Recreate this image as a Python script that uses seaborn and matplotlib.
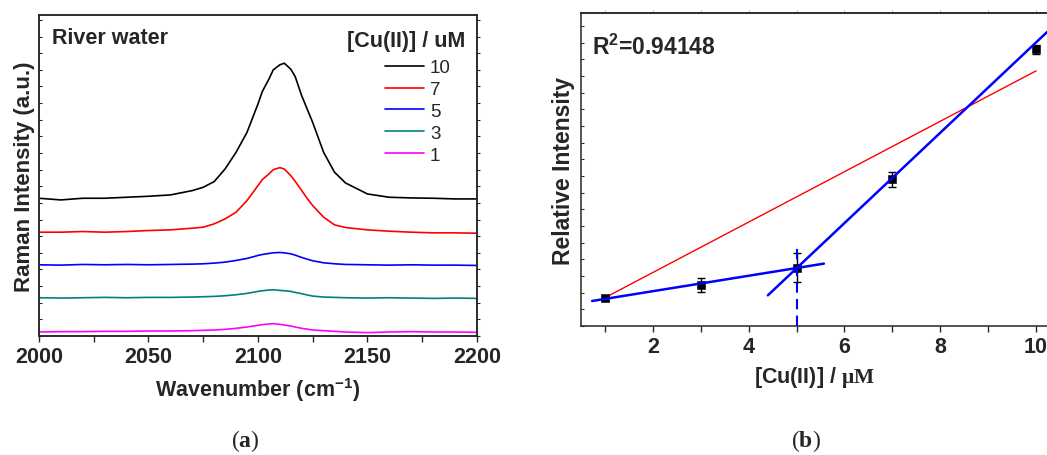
import numpy as np
import pandas as pd
import matplotlib
matplotlib.use("Agg")
import matplotlib.pyplot as plt
from matplotlib.ticker import MultipleLocator, NullFormatter
import seaborn as sns

# ---- panel (a): Raman spectra, offset stacked (arbitrary units) ----
wavenumber = [2000, 2010, 2020, 2030, 2040, 2050, 2060, 2070, 2075, 2080,
              2085, 2090, 2095, 2100, 2102, 2105, 2107, 2110, 2112, 2115,
              2117, 2120, 2122, 2125, 2130, 2135, 2140, 2150, 2160, 2170,
              2180, 2190, 2200]
spec_10 = [414, 409, 414, 414, 417, 420, 424, 437, 447, 464,
           502, 552, 612, 697, 735, 772, 800, 815, 820, 802,
           780, 722, 690, 642, 552, 492, 460, 427, 417, 415,
           414, 412, 412]
spec_7 = [312, 312, 314, 312, 314, 317, 319, 324, 327, 337,
          352, 372, 407, 452, 470, 487, 500, 506, 502, 482,
          465, 437, 418, 392, 357, 334, 326, 319, 315, 312,
          310, 310, 309]
spec_5 = [214, 213, 215, 214, 215, 214, 215, 216, 217, 219,
          222, 227, 233, 242, 245, 248, 250, 251, 250, 247,
          243, 236, 232, 226, 220, 217, 215, 214, 213, 214,
          213, 213, 212]
spec_3 = [115, 114, 115, 116, 115, 116, 116, 117, 118, 119,
          121, 124, 128, 134, 136, 138, 139, 137, 136, 134,
          131, 127, 124, 120, 117, 116, 115, 114, 115, 114,
          113, 114, 113]
spec_1 = [12, 13, 13, 14, 14, 15, 15, 16, 17, 18,
          20, 23, 27, 32, 34, 36, 37, 35, 33, 30,
          27, 23, 21, 18, 16, 14, 12, 10, 12, 13,
          12, 12, 11]
conc_labels = ["10", "7", "5", "3", "1"]
spec_colors = ["black", "#ff0000", "#0000ff", "#008080", "#ff00ff"]

# ---- panel (b): relative intensity vs concentration ----
conc = [1, 3, 5, 7, 10]
rel_int = [0.84, 1.24, 1.75, 4.40, 8.30]
rel_err = [0.07, 0.21, 0.43, 0.23, 0.14]
red_fit_x = [1.0, 10.0]
red_fit_y = [0.85, 7.65]
blue_fit1_x = [0.73, 5.57]
blue_fit1_y = [0.75, 1.87]
blue_fit2_x = [4.40, 10.30]
blue_fit2_y = [0.92, 8.91]
cutoff_x = [5.0, 5.0]
cutoff_y = [0.0, 2.45]

sns.set_style("ticks")
plt.rcParams["font.family"] = ["Liberation Sans", "DejaVu Sans"]
plt.rcParams["font.weight"] = "bold"
plt.rcParams["mathtext.fontset"] = "custom"
plt.rcParams["mathtext.rm"] = "Liberation Serif"
plt.rcParams["mathtext.bf"] = "Liberation Serif:bold"
plt.rcParams["mathtext.sf"] = "Liberation Sans:bold"
plt.rcParams["axes.linewidth"] = 1.1

fig = plt.figure(figsize=(10.47, 4.56), dpi=100)

# ---------------- panel (a) ----------------
ax1 = fig.add_axes([0.0372, 0.261, 0.4183, 0.704])
spectra = [spec_10, spec_7, spec_5, spec_3, spec_1]
df = pd.concat(
    [pd.DataFrame({"wavenumber": wavenumber, "intensity": s, "conc": lab})
     for s, lab in zip(spectra, conc_labels)],
    ignore_index=True,
)
sns.lineplot(data=df, x="wavenumber", y="intensity", hue="conc",
             hue_order=conc_labels, palette=dict(zip(conc_labels, spec_colors)),
             linewidth=1.2, ax=ax1)
ax1.set_xlim(2000, 2200)
ax1.set_ylim(0, 965)
ax1.xaxis.set_major_locator(MultipleLocator(50))
ax1.xaxis.set_minor_locator(MultipleLocator(25))
ax1.yaxis.set_major_locator(MultipleLocator(50))
ax1.yaxis.set_major_formatter(NullFormatter())
ax1.tick_params(axis="x", which="both", direction="out", length=4, width=1,
                labelsize=15.5, pad=3)
ax1.tick_params(axis="y", which="both", direction="in", length=2.5, width=0.8)
for lab in ax1.get_xticklabels():
    lab.set_fontweight("bold")
ax1.set_xlabel(r"Wavenumber (cm$^{\mathsf{-1}}$)", fontsize=15.5,
               fontweight="bold", labelpad=6)
ax1.set_ylabel("Raman Intensity (a.u.)", fontsize=16, fontweight="bold",
               labelpad=-1)
ax1.text(0.03, 0.913, "River water", transform=ax1.transAxes, fontsize=15.5,
         fontweight="bold", va="baseline")
ax1.text(0.973, 0.903, "[Cu(II)] / uM", transform=ax1.transAxes,
         fontsize=15.5, fontweight="bold", va="baseline", ha="right")
leg = ax1.legend(loc="upper left", bbox_to_anchor=(0.79, 0.862),
                 frameon=False, fontsize=13.5,
                 handlelength=2.1, handletextpad=0.3, labelspacing=0.25,
                 borderpad=0.0, borderaxespad=0.0)
for t in leg.get_texts():
    t.set_fontweight("normal")
for h in leg.get_lines():
    h.set_linewidth(1.2)

ax1r = ax1.twinx()
ax1r.set_ylim(0, 965)
ax1r.yaxis.set_major_locator(MultipleLocator(50))
ax1r.yaxis.set_major_formatter(NullFormatter())
ax1r.tick_params(axis="y", direction="out", length=2.5, width=0.8)

# ---------------- panel (b) ----------------
ax2 = fig.add_axes([0.555, 0.2829, 0.446, 0.686])
ax2.errorbar(conc, rel_int, yerr=rel_err, fmt="none", ecolor="black",
             elinewidth=1.0, capsize=3, capthick=1.0, zorder=3)
sns.scatterplot(x=conc, y=rel_int, marker="s", s=26, color="black",
                edgecolor="black", ax=ax2, zorder=4)
sns.lineplot(x=red_fit_x, y=red_fit_y, color="#ff0000", linewidth=1.0,
             ax=ax2, zorder=2)
sns.lineplot(x=blue_fit1_x, y=blue_fit1_y, color="#0000ff", linewidth=1.8,
             ax=ax2, zorder=5)
sns.lineplot(x=blue_fit2_x, y=blue_fit2_y, color="#0000ff", linewidth=1.8,
             ax=ax2, zorder=5)
ax2.plot(cutoff_x, cutoff_y, color="#0000ff", linewidth=1.5,
         linestyle=(0, (5, 3)), zorder=5)
ax2.set_xlim(0.5, 10.25)
ax2.set_ylim(0, 9.38)
ax2.xaxis.set_major_locator(MultipleLocator(2))
ax2.xaxis.set_minor_locator(MultipleLocator(1))
ax2.yaxis.set_major_locator(MultipleLocator(0.5))
ax2.yaxis.set_major_formatter(NullFormatter())
ax2.tick_params(axis="x", which="both", direction="out", length=4, width=1,
                labelsize=15.5, pad=3)
ax2.tick_params(axis="y", which="both", direction="in", length=2.5, width=0.8)
for lab in ax2.get_xticklabels():
    lab.set_fontweight("bold")
ax2.set_xlabel(r"[Cu(II)] / $\mathrm{\mu M}$", fontsize=15.5,
               fontweight="bold", labelpad=5)
ax2.set_ylabel("Relative Intensity", fontsize=16.5, fontweight="bold",
               labelpad=1)
ax2.text(0.024, 0.869, r"R$^{\mathsf{2}}$=0.94148", transform=ax2.transAxes,
         fontsize=16.5, fontweight="bold", va="baseline")
top = ax2.secondary_xaxis("top")
top.xaxis.set_major_locator(MultipleLocator(1))
top.xaxis.set_major_formatter(NullFormatter())
top.tick_params(direction="out", length=2, width=0.6, colors="#999999")

# panel captions
fig.text(0.234, 0.02, r"($\mathbf{a}$)", fontsize=17,
         family="Liberation Serif", fontweight="normal", ha="center")
fig.text(0.770, 0.02, r"($\mathbf{b}$)", fontsize=17,
         family="Liberation Serif", fontweight="normal", ha="center")

fig.savefig("out.png", dpi=100)
